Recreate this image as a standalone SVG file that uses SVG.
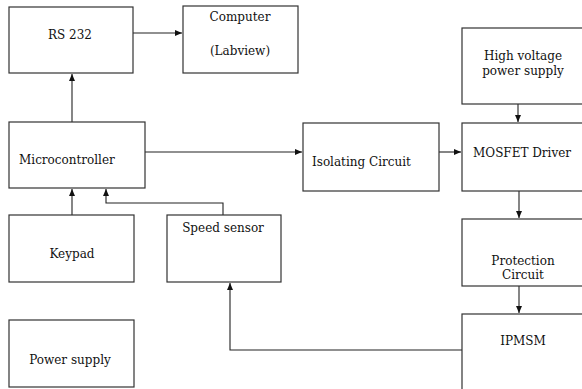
<svg xmlns="http://www.w3.org/2000/svg" width="582" height="389" viewBox="0 0 582 389">
<style>
.box{fill:#fff;stroke:#333;stroke-width:1.2}
.t{font-family:"DejaVu Serif","Liberation Serif",serif;font-size:12px;fill:#111}
.m{text-anchor:middle}
.c{fill:none;stroke:#222;stroke-width:1.1}
</style>
<defs>
<marker id="ah" markerWidth="8" markerHeight="8" refX="7" refY="4" orient="auto" markerUnits="userSpaceOnUse">
<path d="M0,1 L7,4 L0,7 Z" fill="#111"/>
</marker>
</defs>
<rect width="582" height="389" fill="#fff"/>
<g id="connectors">
<path class="c" d="M133,33 H182" marker-end="url(#ah)"/>
<path class="c" d="M72,122 V74" marker-end="url(#ah)"/>
<path class="c" d="M145,152 H302" marker-end="url(#ah)"/>
<path class="c" d="M439,152 H461" marker-end="url(#ah)"/>
<path class="c" d="M518,104 V122" marker-end="url(#ah)"/>
<path class="c" d="M519,191 V218" marker-end="url(#ah)"/>
<path class="c" d="M519,286 V313" marker-end="url(#ah)"/>
<path class="c" d="M72,215 V189" marker-end="url(#ah)"/>
<path class="c" d="M223,215 V203 H106 V189" marker-end="url(#ah)"/>
<path class="c" d="M462,350 H230 V283" marker-end="url(#ah)"/>
</g>
<g id="rs232">
<rect class="box" x="9" y="7" width="124" height="66"/>
<text class="t m" x="70" y="39">RS 232</text>
</g>
<g id="computer">
<rect class="box" x="183" y="6" width="115" height="67"/>
<text class="t m" x="240" y="21">Computer</text>
<text class="t m" x="240" y="55">(Labview)</text>
</g>
<g id="microcontroller">
<rect class="box" x="9" y="122" width="136" height="66"/>
<text class="t" x="19" y="164">Microcontroller</text>
</g>
<g id="keypad">
<rect class="box" x="9" y="215" width="125" height="67"/>
<text class="t m" x="72" y="258">Keypad</text>
</g>
<g id="speed-sensor">
<rect class="box" x="167" y="215" width="114" height="67"/>
<text class="t m" x="223" y="232">Speed sensor</text>
</g>
<g id="power-supply">
<rect class="box" x="9" y="320" width="125" height="67"/>
<text class="t m" x="70" y="364">Power supply</text>
</g>
<g id="isolating-circuit">
<rect class="box" x="303" y="123" width="136" height="68"/>
<text class="t" x="312" y="166">Isolating Circuit</text>
</g>
<g id="high-voltage">
<rect class="box" x="462" y="28" width="130" height="76"/>
<text class="t m" x="523" y="60">High voltage</text>
<text class="t m" x="523" y="75">power supply</text>
</g>
<g id="mosfet-driver">
<rect class="box" x="462" y="123" width="130" height="68"/>
<text class="t" x="473" y="157">MOSFET Driver</text>
</g>
<g id="protection-circuit">
<rect class="box" x="462" y="219" width="130" height="67"/>
<text class="t m" x="523" y="265">Protection</text>
<text class="t m" x="523" y="279">Circuit</text>
</g>
<g id="ipmsm">
<rect class="box" x="462" y="314" width="130" height="90"/>
<text class="t m" x="523" y="345">IPMSM</text>
</g>
</svg>
